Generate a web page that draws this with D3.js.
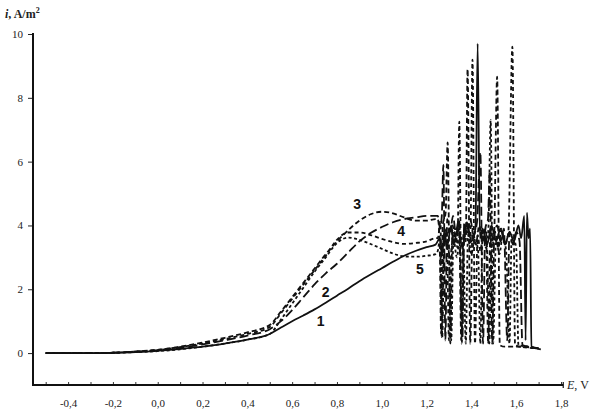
<!DOCTYPE html>
<html>
<head>
<meta charset="utf-8">
<script src="https://cdn.jsdelivr.net/npm/d3@7"></script>
<style>
  body { margin: 0; background: #fff; }
  svg { display: block; }
  .tick text { font-family: "Liberation Serif", "DejaVu Serif", serif; font-size: 11px; fill: #222; }
  .curve { fill: none; stroke: #111; stroke-width: 1.8; stroke-linejoin: round; }
  .num { font-family: "Liberation Sans", Arial, sans-serif; font-size: 14px; font-weight: bold; fill: #111; }
</style>
</head>
<body>
<div id="main"></div>
<script>
const W = 597, H = 419;

// smooth part of the polarisation curves (E in V, i in A/m2)
const E_SMOOTH = [-0.5, -0.4, -0.3, -0.2, -0.1, 0.0, 0.1, 0.2, 0.3, 0.4, 0.5,
    0.55, 0.6, 0.65, 0.7, 0.75, 0.8, 0.85, 0.9, 0.95, 1.0, 1.05, 1.1, 1.15, 1.2, 1.24];
const I1 = [0, 0, 0, 0.01, 0.03, 0.07, 0.13, 0.2, 0.3, 0.42, 0.6,
    0.8, 1.0, 1.18, 1.37, 1.58, 1.8, 2.02, 2.25, 2.46, 2.66, 2.86, 3.05, 3.2, 3.32, 3.4];
const I2 = [0, 0, 0, 0.01, 0.04, 0.09, 0.17, 0.27, 0.4, 0.55, 0.75,
    1.0, 1.35, 1.75, 2.15, 2.5, 2.8, 3.15, 3.5, 3.76, 3.95, 4.1, 4.2, 4.25, 4.3, 4.3];
const I3 = [0, 0, 0, 0.01, 0.05, 0.1, 0.2, 0.33, 0.48, 0.65, 0.88,
    1.3, 1.75, 2.2, 2.65, 3.1, 3.5, 3.85, 4.15, 4.35, 4.43, 4.38, 4.25, 4.15, 4.15, 4.2];
const I4 = [0, 0, 0, 0.01, 0.05, 0.1, 0.19, 0.3, 0.44, 0.6, 0.82,
    1.25, 1.7, 2.15, 2.6, 3.05, 3.55, 3.78, 3.78, 3.7, 3.58, 3.48, 3.42, 3.45, 3.5, 3.6];
const I5 = [0, 0, 0, 0.01, 0.03, 0.06, 0.12, 0.2, 0.3, 0.42, 0.6,
    1.05, 1.55, 2.05, 2.55, 3.0, 3.45, 3.62, 3.55, 3.42, 3.27, 3.12, 3.03, 3.02, 3.05, 3.1];

// oscillating part above ~1.25 V, [E, i]
const OSC1 = [[1.26, 3.6], [1.27, 3.1], [1.28, 3.9], [1.29, 3.3], [1.31, 4.0], [1.32, 3.4], [1.34, 3.9],
    [1.36, 3.3], [1.38, 4.1], [1.40, 3.5], [1.418, 3.9], [1.428, 9.7], [1.438, 3.6], [1.45, 3.9], [1.47, 3.4],
    [1.49, 4.0], [1.51, 3.5], [1.53, 3.9], [1.55, 3.4], [1.57, 3.8], [1.59, 3.5], [1.61, 4.0], [1.622, 3.6],
    [1.636, 4.3], [1.642, 0.4], [1.648, 4.4], [1.655, 3.6], [1.662, 3.9], [1.668, 0.2], [1.69, 0.15], [1.71, 0.12]];
const OSC2 = [[1.25, 4.3], [1.26, 3.9], [1.268, 4.3], [1.275, 5.9], [1.284, 0.4], [1.292, 4.2], [1.305, 3.8],
    [1.318, 4.3], [1.33, 3.8], [1.345, 4.2], [1.36, 0.5], [1.368, 4.1], [1.38, 3.7], [1.395, 4.2], [1.41, 3.7],
    [1.425, 4.1], [1.44, 6.3], [1.452, 0.3], [1.462, 3.9], [1.474, 4.2], [1.482, 5.7], [1.493, 0.3], [1.502, 3.6],
    [1.515, 4.0], [1.53, 3.5], [1.545, 3.9], [1.56, 0.4], [1.57, 3.8], [1.585, 3.4], [1.60, 3.8], [1.615, 3.5],
    [1.628, 0.25], [1.66, 0.2], [1.70, 0.15]];
const OSC3 = [[1.25, 4.2], [1.258, 3.6], [1.265, 0.6], [1.272, 4.0], [1.285, 4.4], [1.294, 6.6], [1.306, 0.3],
    [1.316, 4.0], [1.33, 3.5], [1.345, 4.1], [1.355, 0.4], [1.365, 3.8], [1.375, 3.5], [1.383, 8.9], [1.395, 0.3],
    [1.405, 3.9], [1.42, 3.4], [1.435, 4.0], [1.45, 3.5], [1.465, 3.9], [1.475, 0.3], [1.485, 3.9], [1.50, 3.4],
    [1.515, 8.66], [1.527, 0.25], [1.55, 0.2], [1.60, 0.2], [1.70, 0.15]];
const OSC4 = [[1.25, 3.6], [1.262, 4.1], [1.27, 0.5], [1.278, 3.3], [1.29, 3.9], [1.30, 0.4], [1.31, 3.2],
    [1.325, 3.8], [1.338, 3.3], [1.346, 7.25], [1.357, 0.3], [1.367, 3.5], [1.38, 4.0], [1.395, 3.4], [1.405, 9.2],
    [1.416, 0.3], [1.428, 3.7], [1.44, 3.2], [1.455, 3.9], [1.47, 3.3], [1.48, 0.3], [1.49, 3.3], [1.505, 3.8],
    [1.52, 3.3], [1.535, 3.9], [1.55, 3.4], [1.565, 3.8], [1.583, 9.6], [1.595, 0.25], [1.62, 0.2], [1.70, 0.15]];
const OSC5 = [[1.25, 3.2], [1.26, 3.6], [1.268, 0.5], [1.276, 3.0], [1.288, 3.7], [1.30, 3.1], [1.31, 0.4],
    [1.32, 3.6], [1.335, 3.0], [1.35, 3.7], [1.365, 3.1], [1.375, 0.3], [1.385, 3.7], [1.40, 3.1], [1.415, 3.6],
    [1.43, 3.2], [1.44, 0.3], [1.45, 3.8], [1.465, 3.3], [1.476, 3.9], [1.486, 7.3], [1.497, 0.3], [1.51, 3.6],
    [1.525, 3.1], [1.54, 3.7], [1.555, 3.2], [1.57, 0.3], [1.58, 3.7], [1.60, 3.3], [1.61, 0.25], [1.65, 0.2],
    [1.70, 0.15]];

const X_TICKS = [-0.5, -0.4, -0.3, -0.2, -0.1, 0.0, 0.1, 0.2, 0.3, 0.4, 0.5, 0.6, 0.7, 0.8, 0.9,
    1.0, 1.1, 1.2, 1.3, 1.4, 1.5, 1.6, 1.7, 1.8];
const X_LABELS = [-0.4, -0.2, 0.0, 0.2, 0.4, 0.6, 0.8, 1.0, 1.2, 1.4, 1.6, 1.8];
const Y_TICKS = [0, 2, 4, 6, 8, 10];

const CURVE_NAMES = ["1", "2", "3", "4", "5"];
const LABEL_POS = [[0.727, 0.97], [0.75, 1.88], [0.89, 4.62], [1.087, 3.78], [1.17, 2.58]];

const ctx = {
    left: 33,
    x: d3.scaleLinear().domain([-0.5, 1.8]).range([45.7, 561]),
    y: d3.scaleLinear().domain([-1, 10]).range([385, 34])
};

function buildSeries(iSmooth, osc) {
    let pts = E_SMOOTH.map((e, k) => [e, iSmooth[k]]);
    return pts.concat(osc);
}

function createViz() {
    let svgEl = d3.select("#main").append("svg")
        .attr("width", W)
        .attr("height", H);
    svgEl.append("rect")
        .attr("width", W).attr("height", H).attr("fill", "#fff");

    const x = ctx.x, y = ctx.y;
    const fmt = d => (Math.abs(d) < 1e-9 ? "0,0" : d3.format(".1f")(d).replace(".", ",").replace("\u2212", "-"));

    // x axis ticks and labels
    let xg = svgEl.append("g").attr("transform", `translate(0,${y(-1)})`);
    xg.call(d3.axisBottom(x).tickValues(X_TICKS).tickSize(-3).tickFormat(""))
        .call(g => g.select(".domain").remove());
    xg.selectAll(".tick line").attr("stroke", "#333").attr("stroke-width", 1);
    let xl = svgEl.append("g").attr("transform", `translate(0,${y(-1)})`);
    xl.call(d3.axisBottom(x).tickValues(X_LABELS).tickSize(0).tickPadding(14).tickFormat(fmt))
        .call(g => g.select(".domain").remove());

    // y axis
    let yg = svgEl.append("g").attr("transform", `translate(${ctx.left},0)`);
    yg.call(d3.axisLeft(y).tickValues(Y_TICKS).tickSize(5).tickPadding(5).tickFormat(d3.format("d")))
        .call(g => g.select(".domain").remove());
    yg.selectAll(".tick line").attr("stroke", "#222");

    // axis lines
    svgEl.append("line")
        .attr("x1", ctx.left).attr("x2", ctx.left)
        .attr("y1", y(10) - 1).attr("y2", y(-1) + 1)
        .attr("stroke", "#111").attr("stroke-width", 2);
    svgEl.append("line")
        .attr("x1", ctx.left - 1).attr("x2", x(1.81))
        .attr("y1", y(-1)).attr("y2", y(-1))
        .attr("stroke", "#111").attr("stroke-width", 2);
    svgEl.append("line")
        .attr("x1", x(1.81)).attr("x2", x(1.81))
        .attr("y1", y(-1) - 3).attr("y2", y(-1) + 3)
        .attr("stroke", "#111").attr("stroke-width", 1.2);

    // axis titles
    let yt = svgEl.append("text")
        .attr("x", 5).attr("y", 18)
        .style("font-family", "Liberation Serif, serif")
        .style("font-size", "12px").style("font-weight", "bold").attr("fill", "#222");
    yt.append("tspan").style("font-style", "italic").text("i");
    yt.append("tspan").text(", A/m");
    yt.append("tspan").attr("dy", -5).style("font-size", "8px").text("2");

    let xt = svgEl.append("text")
        .attr("x", 567).attr("y", 389)
        .style("font-family", "Liberation Serif, serif")
        .style("font-size", "12px").attr("fill", "#222");
    xt.append("tspan").style("font-style", "italic").text("E");
    xt.append("tspan").text(", V");

    // curves
    const line = d3.line()
        .x(d => x(d[0]))
        .y(d => y(d[1]))
        .curve(d3.curveMonotoneX);
    const series = [
        { data: buildSeries(I1, OSC1), dash: null },
        { data: buildSeries(I2, OSC2), dash: "9,4" },
        { data: buildSeries(I3, OSC3), dash: "5,3" },
        { data: buildSeries(I4, OSC4), dash: "4,3" },
        { data: buildSeries(I5, OSC5), dash: "3,2.5" }
    ];
    svgEl.append("g").attr("id", "curves")
        .selectAll("path.curve")
        .data(series)
        .enter()
        .append("path")
        .attr("class", "curve")
        .attr("d", d => line(d.data))
        .attr("stroke-dasharray", d => d.dash);

    // curve numbers
    svgEl.append("g").selectAll("text.num")
        .data(CURVE_NAMES)
        .enter()
        .append("text")
        .attr("class", "num")
        .attr("x", (d, k) => x(LABEL_POS[k][0]))
        .attr("y", (d, k) => y(LABEL_POS[k][1]))
        .attr("text-anchor", "middle")
        .attr("dominant-baseline", "middle")
        .text(d => d);
}

createViz();
</script>
</body>
</html>
